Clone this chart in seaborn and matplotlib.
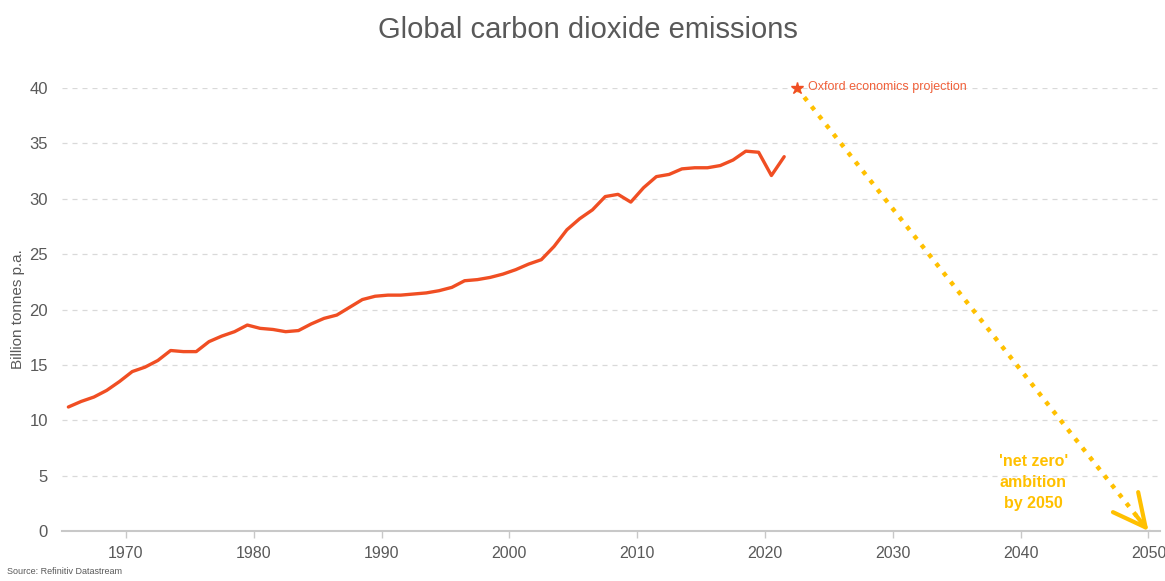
import numpy as np
import pandas as pd
import matplotlib
matplotlib.use('Agg')
import matplotlib.pyplot as plt
import seaborn as sns

# annual global CO2 emissions, billion tonnes
years = list(range(1965, 2022))
emissions = [11.2, 11.7, 12.1, 12.7, 13.5, 14.4, 14.8, 15.4, 16.3, 16.2,
             16.2, 17.1, 17.6, 18.0, 18.6, 18.3, 18.2, 18.0, 18.1, 18.7,
             19.2, 19.5, 20.2, 20.9, 21.2, 21.3, 21.3, 21.4, 21.5, 21.7,
             22.0, 22.6, 22.7, 22.9, 23.2, 23.6, 24.1, 24.5, 25.7, 27.2,
             28.2, 29.0, 30.2, 30.4, 29.7, 31.0, 32.0, 32.2, 32.7, 32.8,
             32.8, 33.0, 33.5, 34.3, 34.2, 32.1, 33.8]

# projection and net zero target
proj_year = [2022.5, 2050]
proj_value = [40, 0]

line_col = '#F04E23'
gold = '#FFC000'
grey = '#595959'

df = pd.DataFrame({'year': np.array(years) + 0.5, 'co2': emissions})

sns.set_theme(style='white')
plt.rcParams['font.family'] = ['Liberation Sans', 'DejaVu Sans']

fig = plt.figure(figsize=(11.65, 5.81), dpi=100)
ax = fig.add_axes([0.0532, 0.086, 0.9425, 0.7625])

sns.lineplot(data=df, x='year', y='co2', ax=ax, color=line_col, lw=2.4)

# dotted path from projection to net zero
ax.plot(proj_year, proj_value, color=gold, lw=3.2, ls=':', solid_capstyle='butt')
ax.annotate('', xy=(proj_year[1], proj_value[1]), xytext=(proj_year[1] - 1, proj_value[1] + 40 / 27.5),
            arrowprops=dict(arrowstyle='->', color=gold, lw=3, mutation_scale=58, shrinkA=0, shrinkB=0),
            annotation_clip=False)
ax.plot(proj_year[0], proj_value[0], marker='*', ms=9, color=line_col, clip_on=False, zorder=5)
ax.text(proj_year[0] + 0.9, proj_value[0] + 0.1, 'Oxford economics projection', color='#F0603A',
        fontsize=9, va='center', ha='left')
ax.text(2041, 4.4, "'net zero'\nambition\nby 2050", color=gold, fontsize=11.5, fontweight='bold',
        ha='center', va='center', linespacing=1.5)

ax.set_xlim(1965, 2050.9)
ax.set_ylim(0, 40)
ax.set_yticks(range(0, 45, 5))
ax.set_xticks(range(1970, 2060, 10))
ax.yaxis.grid(True, ls=(0, (4, 4)), color='#d9d9d9', lw=0.9)
for s in ['top', 'right', 'left']:
    ax.spines[s].set_visible(False)
ax.spines['bottom'].set_color('#c8c8c8')
ax.spines['bottom'].set_linewidth(1.5)
ax.tick_params(axis='x', bottom=True, length=5, color='#c8c8c8', width=1, labelsize=11.5, labelcolor=grey, pad=6)
ax.tick_params(axis='y', left=False, length=0, labelsize=12, labelcolor=grey, pad=10)
ax.set_xlabel('')
ax.set_ylabel('Billion tonnes p.a.', fontsize=11, color=grey, labelpad=3)

fig.text(0.505, 0.948, 'Global carbon dioxide emissions', ha='center', va='center', fontsize=21, color=grey)
fig.text(0.006, 0.008, 'Source: Refinitiv Datastream', fontsize=6.5, color=grey, ha='left', va='bottom')

fig.savefig('out.png', dpi=100)
